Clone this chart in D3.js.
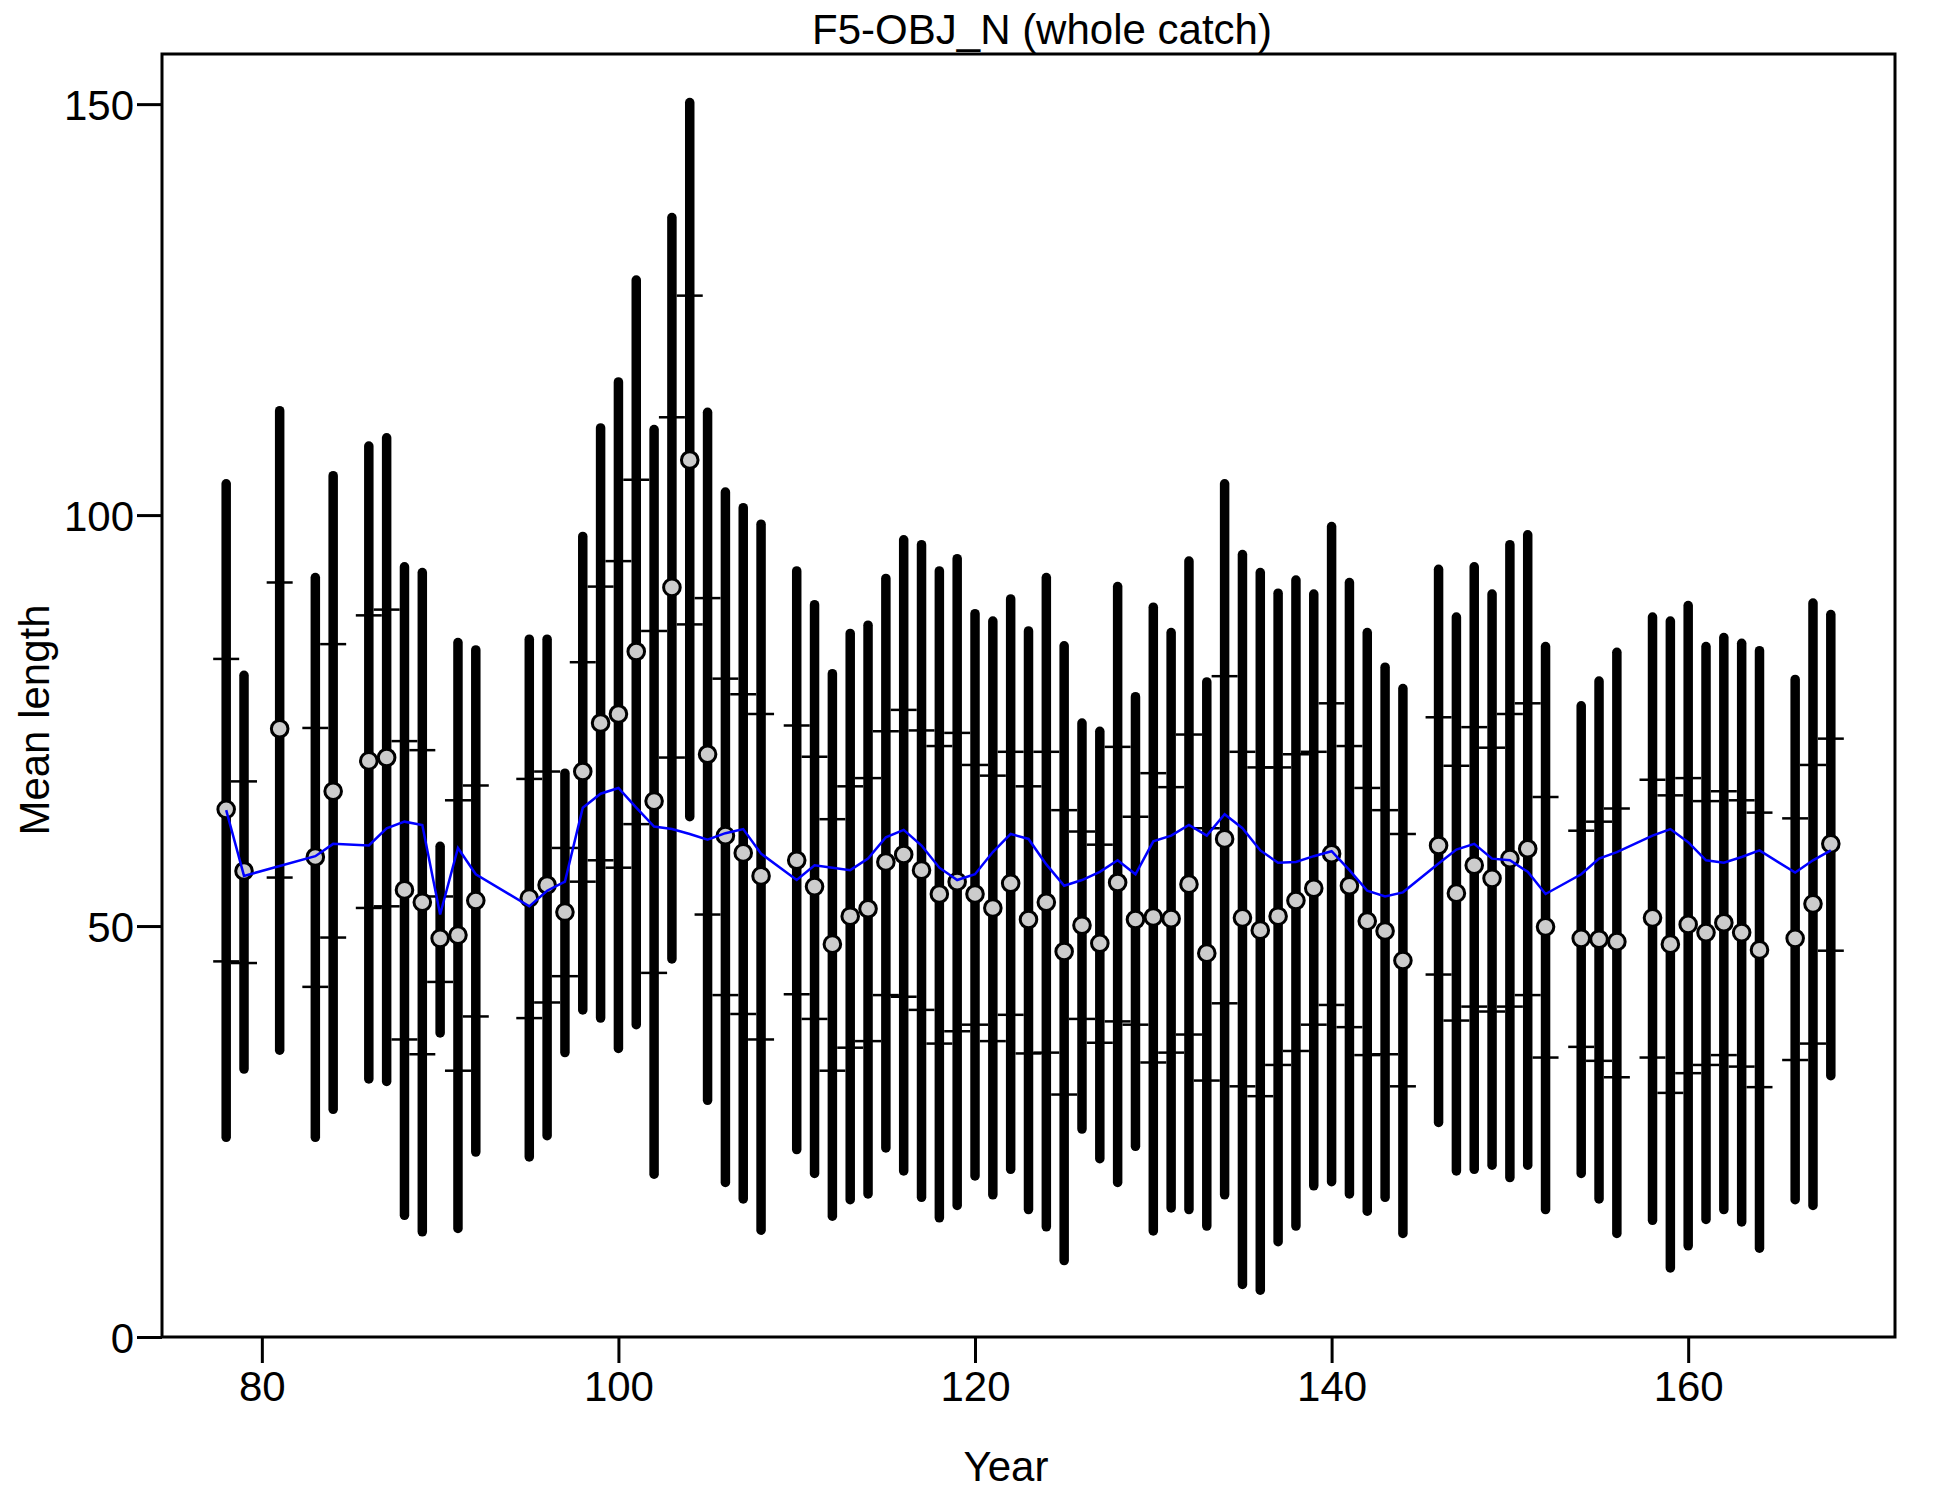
<!DOCTYPE html>
<html>
<head>
<meta charset="utf-8">
<script src="https://cdn.jsdelivr.net/npm/d3@7"></script>
<style>
  html, body { margin: 0; padding: 0; background: #fff; }
  text { font-family: "Liberation Sans", Arial, sans-serif; fill: #000; }
</style>
</head>
<body>
<svg id="chart" width="1950" height="1500"></svg>
<script>
const years = [78,79,81,83,84,86,87,88,89,90,91,92,95,96,97,98,99,100,101,102,103,104,105,106,107,108,
  110,111,112,113,114,115,116,117,118,119,120,121,122,123,124,125,126,127,128,129,130,131,132,133,134,135,136,137,138,139,140,
  141,142,143,144,146,147,148,149,150,151,152,154,155,156,158,159,160,161,162,163,164,166,167,168];

const obsMean = [64.2,56.7,74.0,58.4,66.4,70.1,70.5,54.4,52.9,48.5,48.9,53.1,53.4,55.0,51.7,68.8,74.7,75.8,83.4,65.2,91.2,106.7,70.9,61.0,58.9,56.1,
  58.0,54.8,47.8,51.2,52.1,57.8,58.7,56.8,53.9,55.4,53.9,52.2,55.2,50.8,52.9,46.9,50.1,47.9,55.3,50.8,51.1,50.9,55.1,46.7,60.6,51.0,49.5,51.2,53.1,54.6,58.8,
  54.9,50.6,49.4,45.8,59.8,54.0,57.4,55.8,58.2,59.4,49.9,48.5,48.4,48.1,51.0,47.8,50.2,49.2,50.4,49.2,47.1,48.5,52.7,60.0];

const barLow = [24.3,32.6,34.9,24.3,27.7,31.4,31.1,14.8,12.8,37.0,13.2,22.5,21.9,24.5,34.6,39.8,38.8,35.1,38.0,19.8,46.0,63.3,28.8,18.8,16.8,13.0,
  22.8,19.9,14.7,16.7,17.4,23.0,20.2,17.0,14.5,16.0,19.6,17.3,20.4,15.5,13.4,9.3,25.3,21.7,18.8,23.2,12.9,15.7,15.5,13.5,17.3,6.4,5.7,11.6,13.5,18.4,18.9,
  17.4,15.3,17.0,12.6,26.1,20.2,20.4,20.9,19.4,20.9,15.5,19.9,16.8,12.6,14.2,8.4,11.1,14.3,15.5,14.0,10.8,16.7,16.0,31.8];

const barHigh = [103.8,80.5,112.7,92.4,104.8,108.4,109.4,93.7,93.0,59.7,84.5,83.6,84.9,84.9,68.6,97.4,110.6,116.2,128.6,110.4,136.2,150.2,112.5,102.8,100.9,98.9,
  93.2,89.1,80.7,85.6,86.6,92.3,97.0,96.4,93.2,94.7,88.0,87.1,89.8,85.9,92.4,84.1,74.7,73.7,91.3,77.9,88.8,85.7,94.4,79.7,103.8,95.2,93.0,90.5,92.1,90.4,98.6,
  91.8,85.7,81.5,78.9,93.4,87.6,93.7,90.4,96.4,97.6,84.0,76.8,79.8,83.3,87.6,87.1,89.0,84.0,85.1,84.4,83.5,80.0,89.3,87.9];

const tickLow = [45.7,45.5,55.9,42.6,48.6,52.2,52.4,36.2,34.4,43.2,32.4,39.0,38.8,40.7,43.9,55.4,58.0,57.1,62.4,44.3,70.5,86.7,51.4,41.6,39.3,36.2,
  41.7,38.7,32.4,35.2,36.0,41.6,41.4,39.8,35.7,37.2,38.0,36.0,39.2,34.5,34.6,29.5,38.7,35.8,38.4,38.0,33.4,34.6,36.8,31.2,40.6,30.5,29.3,33.1,34.8,38.0,40.4,
  37.7,34.3,34.4,30.5,44.1,38.5,40.2,39.6,40.2,41.6,34.0,35.3,33.6,31.6,34.0,29.7,32.1,33.1,34.3,32.9,30.4,33.7,35.7,47.0];

const tickHigh = [82.5,67.6,91.8,74.1,84.3,87.8,88.5,72.5,71.4,53.6,65.3,67.1,67.9,68.8,59.5,82.1,91.3,94.4,104.3,85.9,111.9,126.7,89.9,80.1,78.2,75.8,
  74.4,70.6,63.0,67.0,68.0,73.7,76.3,73.8,71.9,73.5,69.6,68.3,71.2,67.0,71.2,64.1,61.5,59.9,71.8,63.3,68.6,66.9,73.3,61.9,80.4,71.2,69.3,69.3,70.9,71.2,77.1,
  71.9,66.8,64.1,61.2,75.4,69.5,74.2,71.7,75.8,77.1,65.7,61.6,62.7,64.3,67.8,65.9,68.0,65.2,66.4,65.3,63.8,63.1,69.6,72.8];

const expMean = [64.1,56.1,57.3,58.5,60.0,59.8,61.9,62.7,62.3,51.4,59.5,56.3,52.4,54.3,55.4,64.4,66.1,66.8,64.4,62.1,61.8,61.2,60.5,61.3,61.8,58.8,
  55.6,57.4,57.1,56.8,58.2,60.8,61.7,59.8,57.1,55.6,56.3,59.0,61.2,60.6,57.5,54.9,55.6,56.6,58.0,56.3,60.3,61.0,62.3,61.0,63.6,61.9,59.2,57.7,57.8,58.5,59.1,
  56.8,54.3,53.6,54.1,57.6,59.3,60.0,58.2,58.0,56.6,53.9,56.3,58.2,59.0,61.0,61.8,60.2,58.0,57.7,58.4,59.2,56.5,58.0,59.2];

const xTicks = [80,100,120,140,160];
const yTicks = [0,50,100,150];
const titleText = "F5-OBJ_N (whole catch)";
const xLabel = "Year";
const yLabel = "Mean length";

const rows = years.map((yr, i) => ({
  year: yr, obs: obsMean[i], lo: barLow[i], hi: barHigh[i],
  tlo: tickLow[i], thi: tickHigh[i], exp: expMean[i]
}));

const L = 162, R = 1895, T = 54, B = 1337;
const FS = 42;

const x = d3.scaleLinear().domain([74.4, 171.6]).range([L, R]);
const y = d3.scaleLinear().domain([0, 156.1]).range([B, T]);

const svg = d3.select("#chart");

// thick interval bars
svg.append("g").selectAll("line").data(rows).join("line")
  .attr("x1", d => x(d.year)).attr("x2", d => x(d.year))
  .attr("y1", d => y(d.lo)).attr("y2", d => y(d.hi))
  .attr("stroke", "#000").attr("stroke-width", 9.5).attr("stroke-linecap", "round");

// horizontal inner-interval ticks
const tickHalf = 13;
const tg = svg.append("g");
["tlo", "thi"].forEach(k => {
  tg.selectAll("line." + k).data(rows).join("line").attr("class", k)
    .attr("x1", d => x(d.year) - tickHalf).attr("x2", d => x(d.year) + tickHalf)
    .attr("y1", d => y(d[k])).attr("y2", d => y(d[k]))
    .attr("stroke", "#000").attr("stroke-width", 2.5);
});

// observed points
svg.append("g").selectAll("circle").data(rows).join("circle")
  .attr("cx", d => x(d.year)).attr("cy", d => y(d.obs)).attr("r", 8.3)
  .attr("fill", "#cccccc").attr("stroke", "#000").attr("stroke-width", 3);

// expected line
svg.append("path").datum(rows)
  .attr("d", d3.line().x(d => x(d.year)).y(d => y(d.exp)))
  .attr("fill", "none").attr("stroke", "#0000ff").attr("stroke-width", 2.5);

// box
svg.append("rect").attr("x", L).attr("y", T).attr("width", R - L).attr("height", B - T)
  .attr("fill", "none").attr("stroke", "#000").attr("stroke-width", 3);

// axes
const xAxis = d3.axisBottom(x).tickValues(xTicks).tickSize(26).tickPadding(10).tickFormat(d3.format("d"));
const gx = svg.append("g").attr("transform", `translate(0,${B})`).call(xAxis);
gx.select(".domain").remove();
gx.selectAll(".tick line").attr("stroke", "#000").attr("stroke-width", 3);
gx.selectAll(".tick text").attr("font-size", FS).attr("font-family", "Liberation Sans, Arial, sans-serif")
  .attr("fill", "#000").attr("dy", null).attr("y", 64);

const yAxis = d3.axisLeft(y).tickValues(yTicks).tickSize(25).tickPadding(3).tickFormat(d3.format("d"));
const gy = svg.append("g").attr("transform", `translate(${L},0)`).call(yAxis);
gy.select(".domain").remove();
gy.selectAll(".tick line").attr("stroke", "#000").attr("stroke-width", 3);
gy.selectAll(".tick text").attr("font-size", FS).attr("font-family", "Liberation Sans, Arial, sans-serif")
  .attr("fill", "#000").attr("x", -28).attr("dy", "0.36em");

// titles
svg.append("text").attr("x", 1042).attr("y", 44).attr("text-anchor", "middle")
  .attr("font-size", FS).text(titleText);
svg.append("text").attr("x", 1006).attr("y", 1481).attr("text-anchor", "middle")
  .attr("font-size", FS).text(xLabel);
svg.append("text").attr("transform", "translate(49,720) rotate(-90)").attr("text-anchor", "middle")
  .attr("font-size", FS).text(yLabel);
</script>
</body>
</html>
